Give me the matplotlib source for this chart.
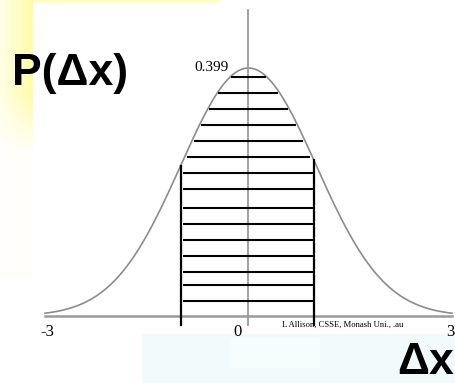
import numpy as np
import matplotlib.pyplot as plt
from matplotlib.patches import Rectangle

# standard normal density, drawn from -3 to 3
x_min, x_max = -3.0, 3.0
peak_label = "0.399"
tick_values = [-3, 0, 3]
tick_labels = ["-3", "0", "3"]

# heights of the horizontal rungs (density units)
levels = [0.3845, 0.3588, 0.333, 0.307, 0.2816, 0.2558, 0.230, 0.204,
          0.174, 0.148, 0.122, 0.0965, 0.071, 0.050, 0.024]

# the +/- 1 sigma band
band_left, band_right = -1.0, 0.96


def pdf(x):
    return np.exp(-x ** 2 / 2) / np.sqrt(2 * np.pi)


def half_width(p):
    # x where the density falls to p
    return np.sqrt(-2 * np.log(p * np.sqrt(2 * np.pi)))


fig = plt.figure(figsize=[4.56, 3.83], dpi=100)

# background layer in pixel units
bg = fig.add_axes([0, 0, 1, 1])
bg.set_xlim(0, 456)
bg.set_ylim(383, 0)
bg.axis('off')

# yellow side strip: stronger to the right, fading out downwards
gx = np.linspace(0.3, 1.0, 33)[None, :]
rows = np.arange(280)[:, None]
gy = np.clip(1 - (rows - 95) / 60, 0.06, 1)
strip = np.ones((280, 33, 3))
strip[:, :, 2] = 1.0 - 0.34 * gx * gy
strip[:, :, 1] = 1.0 - 0.01 * gx * gy
bg.imshow(strip, extent=[0, 33, 280, 0], aspect='auto', zorder=0,
          interpolation='bilinear')
bg.add_patch(Rectangle((33, 0), 187, 3, color='#ffffc4', lw=0, zorder=0))
bg.add_patch(Rectangle((142, 334), 314, 49, color='#f1fbfb', lw=0, zorder=0))
bg.add_patch(Rectangle((230, 338), 90, 30, color='#f5fdfd', lw=0, zorder=0))

# plot layer: axes span the full figure so data maps straight to pixels
ax = fig.add_axes([0, 0, 1, 1])
ax.patch.set_alpha(0)
ax.set_xlim(-3.663, 3.059)
ax.set_ylim(-0.1078, 0.5084)
ax.axis('off')

xs = np.linspace(x_min, x_max, 400)
ax.plot(xs, pdf(xs), color='#8c8c8c', lw=1.2)
ax.plot([x_min, x_max], [0, 0], color='#9a9a9a', lw=1.8)
ax.plot([0, 0], [-0.0145, 0.4923], color='#9a9a9a', lw=1.3)

for p in levels:
    hw = half_width(p) * 0.96
    ax.plot([max(-hw, band_left + 0.04), min(hw, band_right)], [p, p],
            color='black', lw=1.5, solid_capstyle='butt')

for b in [band_left, band_right]:
    ax.plot([b, b], [-0.0145, pdf(b)], color='black', lw=1.6)

tick_x = {-3: -2.97, 0: -0.16, 3: 2.97}
for v, t in zip(tick_values, tick_labels):
    ax.text(tick_x[v], -0.0125, t, ha='center', va='top',
            family='Liberation Serif', fontsize=12)
ax.text(-0.55, 0.4005, peak_label, ha='center', va='center',
        family='Liberation Serif', fontsize=11)
ax.text(0.5, -0.0085, "L Allison, CSSE, Monash Uni., .au", ha='left', va='top',
        family='Liberation Serif', fontsize=6.2)

# axis names
bg.text(12, 74, "P(\u0394x)", ha='left', va='center', family='Liberation Sans',
        fontweight='bold', fontsize=32)
bg.text(454, 363, "\u0394x", ha='right', va='center', family='Liberation Sans',
        fontweight='bold', fontsize=32)

fig.savefig('out.png', dpi=100)
